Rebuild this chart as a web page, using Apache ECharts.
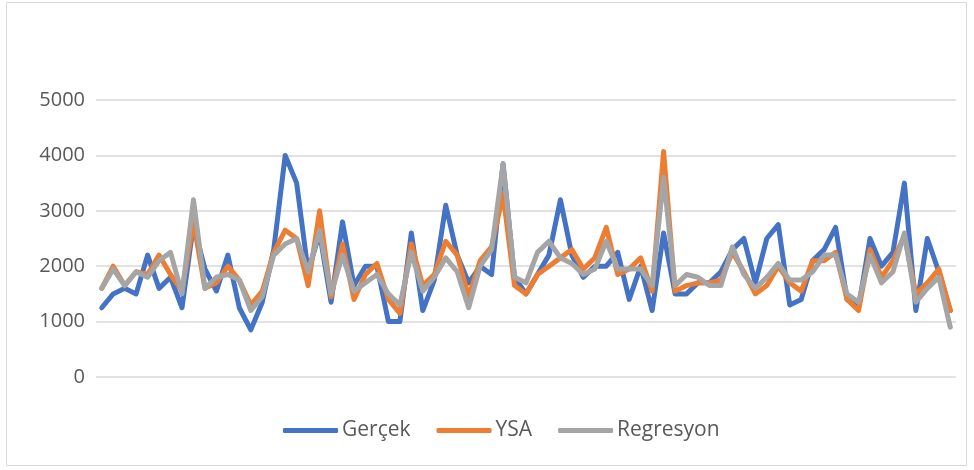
<!DOCTYPE html>
<html>
<head>
<meta charset="utf-8">
<script src="https://cdn.jsdelivr.net/npm/echarts@6/dist/echarts.min.js"></script>
<style>
html,body{margin:0;padding:0;background:#fff;}
#c{width:974px;height:470px;}
</style>
</head>
<body>
<div id="c"></div>
<script>
var seriesNames = ['Gerçek', 'YSA', 'Regresyon'];
var yTicks = [0, 1000, 2000, 3000, 4000, 5000];
var gercek = [1250,1500,1600,1500,2200,1600,1800,1250,2750,1950,
  1550,2200,1250,850,1350,2300,4000,3500,1900,2600,
  1350,2800,1650,2000,2000,1000,1000,2600,1200,1750,
  3100,2200,1700,2000,1850,3850,1800,1500,1850,2200,
  3200,2200,1800,2000,2000,2250,1400,2000,1200,2600,
  1500,1500,1700,1700,1900,2300,2500,1700,2500,2750,
  1300,1400,2100,2300,2700,1400,1250,2500,2000,2250,
  3500,1200,2500,1900,1200];
var ysa = [1600,2000,1650,1900,1850,2200,1850,1550,2800,1600,
  1700,2000,1750,1300,1550,2250,2650,2500,1650,3000,
  1450,2400,1400,1850,2050,1400,1150,2400,1650,1850,
  2450,2200,1450,2100,2350,3300,1650,1500,1850,2000,
  2150,2300,1950,2150,2700,1850,1950,2150,1550,4070,
  1550,1650,1700,1700,1750,2250,1900,1500,1650,2000,
  1700,1550,2100,2100,2250,1400,1200,2300,1800,2100,
  2550,1500,1700,1950,1200];
var regresyon = [1600,1950,1650,1900,1800,2100,2250,1500,3200,1600,
  1800,1850,1750,1200,1450,2200,2400,2500,1900,2650,
  1500,2200,1550,1700,1850,1500,1300,2250,1550,1800,
  2150,1900,1250,2000,2300,3850,1800,1700,2250,2450,
  2150,2050,1850,1950,2450,1950,1950,1950,1650,3600,
  1650,1850,1800,1650,1650,2350,1850,1600,1800,2050,
  1750,1750,1900,2200,2200,1500,1350,2200,1700,1900,
  2600,1350,1600,1800,900];
var categories = gercek.map(function(_, i){ return String(i + 1); });
var colors = ['#4472C4', '#ED7D31', '#A5A5A5'];

var chart = echarts.init(document.getElementById('c'), null, {renderer: 'canvas'});
function mk(name, data, color) {
  return {
    name: name, type: 'line', data: data, symbol: 'none',
    lineStyle: {width: 5, color: color, join: 'round', cap: 'round'},
    itemStyle: {color: color},
    animation: false
  };
}
chart.setOption({
  animation: false,
  backgroundColor: '#fff',
  color: colors,
  graphic: [{
    type: 'rect', silent: true, z: -10,
    shape: {x: 6.5, y: 2.5, width: 960, height: 463},
    style: {fill: 'none', stroke: '#d9d9d9', lineWidth: 1}
  }],
  grid: {left: 96, right: 18, top: 100, bottom: 93, containLabel: false},
  legend: {
    data: seriesNames, bottom: 24, left: 278,
    icon: 'roundRect', itemWidth: 55, itemHeight: 5, itemGap: 26,
    textStyle: {fontFamily: 'Open Sans', fontSize: 21, color: '#595959', padding: [0,0,0,-1]}
  },
  xAxis: {
    type: 'category', data: categories, boundaryGap: true,
    axisLine: {show: false}, axisTick: {show: false}, axisLabel: {show: false},
    splitLine: {show: false}
  },
  yAxis: {
    type: 'value', min: yTicks[0], max: yTicks[yTicks.length - 1], interval: 1000,
    axisLine: {show: false}, axisTick: {show: false},
    axisLabel: {fontFamily: 'Open Sans', fontSize: 20, color: '#595959', margin: 11,
      formatter: function(v){ return String(v); }},
    splitLine: {lineStyle: {color: '#d9d9d9', width: 1.5}}
  },
  series: [mk(seriesNames[0], gercek, colors[0]), mk(seriesNames[1], ysa, colors[1]), mk(seriesNames[2], regresyon, colors[2])]
});
</script>
</body>
</html>
